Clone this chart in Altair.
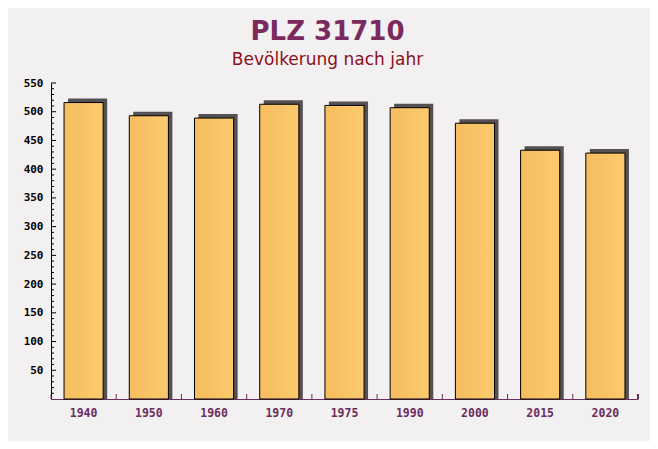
import altair as alt
import pandas as pd

years = ["1940", "1950", "1960", "1970", "1975", "1990", "2000", "2015", "2020"]
population = [516, 493, 489, 513, 511, 507, 480, 433, 428]
y_major = [50, 100, 150, 200, 250, 300, 350, 400, 450, 500, 550]
y_minor = [v for v in range(10, 551, 10) if v % 50 != 0]

W, H = 587, 316
STEP = W / len(years)

df = pd.DataFrame({"year": years, "pop": population})
df_major = pd.DataFrame({"pop": y_major})
df_minor = pd.DataFrame({"pop": y_minor})

yscale = alt.Scale(domain=[0, 550], nice=False, zero=True)
xscale = alt.Scale(paddingInner=0, paddingOuter=0)

x_axis = alt.Axis(
    labelAngle=0, ticks=False, domain=True, domainColor="#6b2d5b", domainWidth=1,
    labelFont="DejaVu Sans Mono", labelFontWeight="bold", labelFontSize=11.5,
    labelColor="#6b2d5b", labelPadding=8, grid=False,
)
y_axis = alt.Axis(
    values=y_major, ticks=False, domain=True, domainColor="black", domainWidth=1,
    labelFont="DejaVu Sans Mono", labelFontWeight="bold", labelFontSize=11,
    labelColor="black", labelPadding=8, grid=False,
)

x_enc = alt.X("year:N", sort=years, scale=xscale, title=None, axis=x_axis)
y_enc = alt.Y("pop:Q", scale=yscale, title=None, axis=y_axis)

base = alt.Chart(df)

shadow = base.mark_bar(
    color="#555052", width=alt.RelativeBandSize(0.6), xOffset=4, yOffset=-4, y2Offset=0
).encode(x=x_enc, y=y_enc, y2=alt.datum(0))

front = base.mark_bar(
    width=alt.RelativeBandSize(0.6), stroke="black", strokeWidth=1,
    color=alt.Gradient(
        gradient="linear", x1=0, x2=1, y1=0, y2=0,
        stops=[alt.GradientStop(color="#f5bd5e", offset=0),
               alt.GradientStop(color="#fcca6e", offset=1)],
    ),
).encode(x=x_enc, y=y_enc, y2=alt.datum(0))

major_ticks = alt.Chart(df_major).mark_rule(color="black", strokeWidth=1).encode(
    y=y_enc, x=alt.value(0), x2=alt.value(5),
)
minor_ticks = alt.Chart(df_minor).mark_rule(color="black", strokeWidth=1).encode(
    y=y_enc, x=alt.value(0), x2=alt.value(3),
)
x_ticks = base.mark_rule(color="#6b2d5b", strokeWidth=1, xOffset=-STEP / 2).encode(
    x=x_enc, y=alt.value(H - 5), y2=alt.value(H),
)
x_tick_end = base.mark_rule(color="#6b2d5b", strokeWidth=1).encode(
    x=alt.value(W), y=alt.value(H - 5), y2=alt.value(H),
)

chart = (
    alt.layer(shadow, front, major_ticks, minor_ticks, x_ticks, x_tick_end)
    .properties(
        width=W, height=H,
        autosize=alt.AutoSizeParams(type="none"),
        padding={"left": 43, "top": 75, "right": 12, "bottom": 42},
        background="#f3f0f2",
        title=alt.TitleParams(
            text="PLZ 31710",
            subtitle="Bevölkerung nach jahr",
            anchor="middle", dx=-17, offset=9,
            font="DejaVu Sans", fontSize=26, fontWeight="bold", color="#7b2a5e",
            subtitleFont="DejaVu Sans", subtitleFontSize=17, subtitleColor="#8b0f1a",
            subtitlePadding=7,
        ),
    )
    .configure_view(stroke=None)
)

chart.save("out.html", embed_options={"renderer": "svg", "actions": False})
